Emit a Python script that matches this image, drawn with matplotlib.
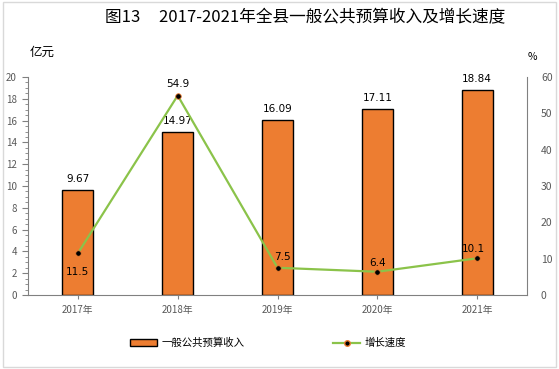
import matplotlib
matplotlib.use('Agg')
from matplotlib import pyplot as plt
from matplotlib.patches import Rectangle
from matplotlib.lines import Line2D
from matplotlib.ticker import MultipleLocator

plt.rcParams['font.family'] = ['Noto Sans CJK SC', 'DejaVu Sans']

years = ['2017年', '2018年', '2019年', '2020年', '2021年']
revenue = [9.67, 14.97, 16.09, 17.11, 18.84]
growth = [11.5, 54.9, 7.5, 6.4, 10.1]
revenue_labels = ['9.67', '14.97', '16.09', '17.11', '18.84']
growth_labels = ['11.5', '54.9', '7.5', '6.4', '10.1']

bar_color = '#ed7d31'
line_color = '#8bc34a'
tick_color = '#595959'

fig = plt.figure(figsize=(5.59, 3.69), dpi=100)
# outer border
fig.patches.append(Rectangle((0.005, 0.005), 0.99, 0.99, transform=fig.transFigure,
                             fill=False, edgecolor='#d9d9d9', linewidth=1))

ax = fig.add_axes([28 / 559, 1 - 295 / 369, (527 - 28) / 559, (295 - 77) / 369])
x = list(range(len(years)))
ax.bar(x, revenue, width=0.31, color=bar_color, edgecolor='black', linewidth=1, zorder=2)
ax.set_xlim(-0.5, 4.5)
ax.set_ylim(0, 20)
ax.yaxis.set_major_locator(MultipleLocator(2))
ax.yaxis.set_minor_locator(MultipleLocator(0.5))
ax.set_xticks(x)
ax.set_xticklabels(years)
ax.tick_params(axis='x', length=3, color='#808080', labelsize=7, labelcolor=tick_color, pad=4)
ax.tick_params(axis='y', which='major', length=4, color='#808080', labelsize=7, labelcolor=tick_color, pad=4)
ax.tick_params(axis='y', which='minor', length=2, color='#808080')
for s in ['top', 'right']:
    ax.spines[s].set_visible(False)
for s in ['left', 'bottom']:
    ax.spines[s].set_color('#808080')

for i, v in enumerate(revenue):
    ax.text(i, v + 0.5, revenue_labels[i], ha='center', va='bottom', fontsize=7.5, color='black',
            family=['DejaVu Sans'])

ax2 = ax.twinx()
ax2.plot(x, growth, color=line_color, linewidth=1.6, marker='o', markersize=4,
         markerfacecolor='black', markeredgecolor=bar_color, markeredgewidth=0.6, zorder=3)
ax2.set_ylim(0, 60)
ax2.yaxis.set_major_locator(MultipleLocator(10))
ax2.tick_params(axis='y', length=0, labelsize=7.5, labelcolor=tick_color, pad=10)
for s in ['top', 'left', 'bottom']:
    ax2.spines[s].set_visible(False)
ax2.spines['right'].set_color('#808080')

# (dx, dy) in points for each growth label
offsets = [(0, -10, 'top'), (0, 5, 'bottom'), (3.5, 4, 'bottom'), (0, 3, 'bottom'), (-3, 3, 'bottom')]
for i, v in enumerate(growth):
    dx, dy, va = offsets[i]
    ax2.annotate(growth_labels[i], (i, v), xytext=(dx, dy), textcoords='offset points',
                 ha='center', va=va, fontsize=7.5, color='black', family=['DejaVu Sans'])

fig.text(305 / 559, 1 - 18 / 369, '图13     2017-2021年全县一般公共预算收入及增长速度',
         ha='center', va='center', fontsize=12, color='black')
fig.text(30 / 559, 1 - 52 / 369, '亿元', ha='left', va='center', fontsize=9, color='black')
fig.text(528 / 559, 1 - 57 / 369, '%', ha='left', va='center', fontsize=7.5, color='black')

handles = [Rectangle((0, 0), 1, 1, facecolor=bar_color, edgecolor='black', linewidth=1),
           Line2D([0], [0], color=line_color, linewidth=1.6, marker='o', markersize=4,
                  markerfacecolor='black', markeredgecolor=bar_color)]
fig.legend(handles, ['一般公共预算收入', '增长速度'], loc='center', ncol=2,
           bbox_to_anchor=(268 / 559, 1 - 343 / 369), frameon=False, fontsize=7.5,
           columnspacing=8.5, handlelength=2.6, handletextpad=0.4)

plt.savefig('out.png', dpi=100)
